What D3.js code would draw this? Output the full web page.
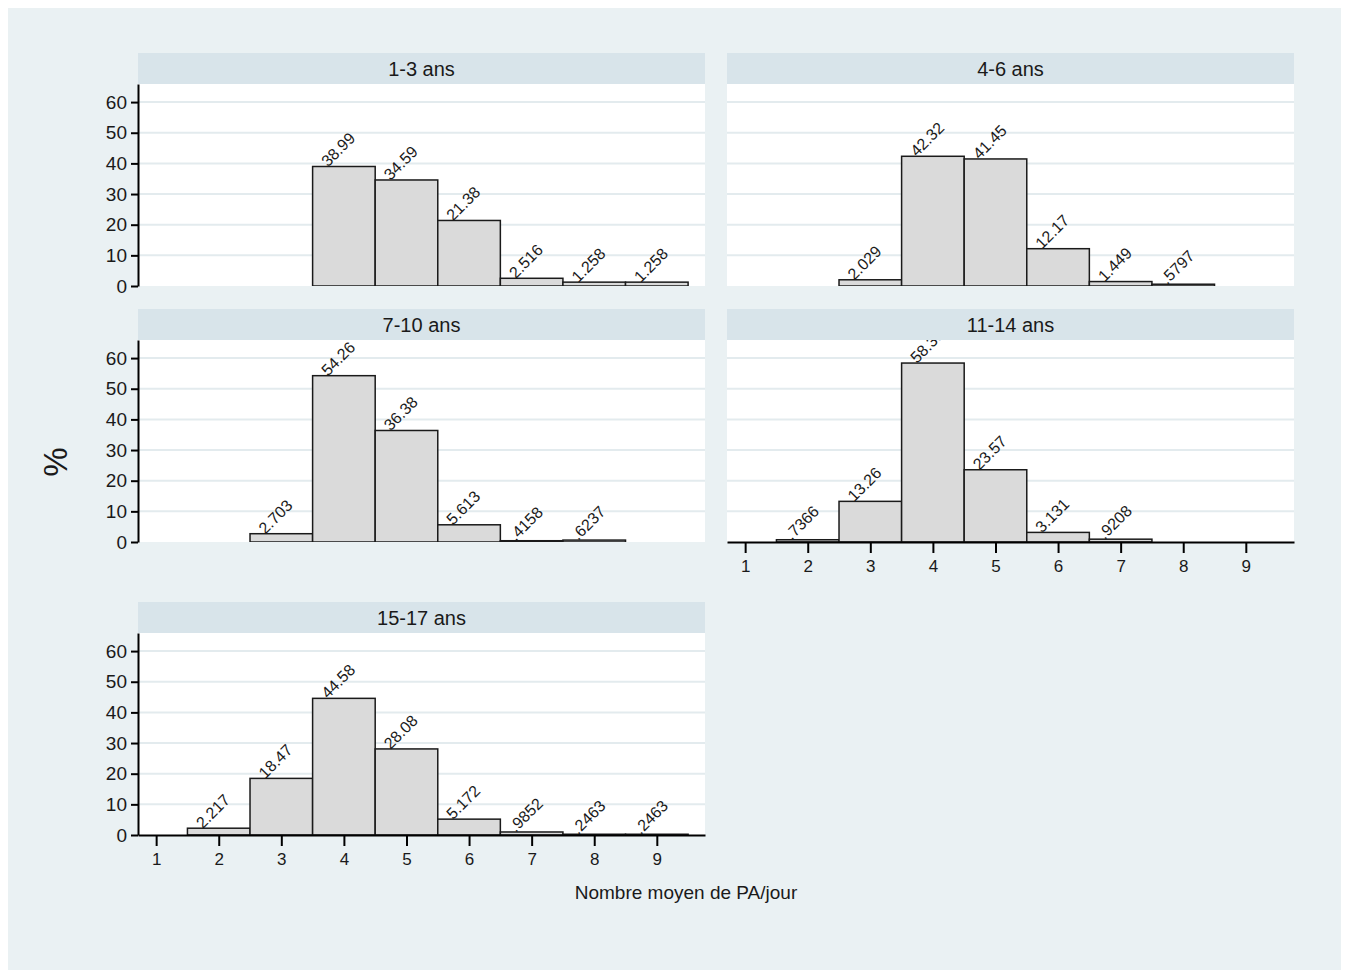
<!DOCTYPE html>
<html><head><meta charset="utf-8">
<script src="https://cdn.jsdelivr.net/npm/d3@7"></script>
<style>
html,body{margin:0;padding:0;background:#fff;}
svg{display:block;font-family:"Liberation Sans",Arial,sans-serif;}
</style></head>
<body>
<svg id="chart" width="1346" height="971"></svg>
<script>
// ---- data ----
const panelTitles = ["1-3 ans", "4-6 ans", "7-10 ans", "11-14 ans", "15-17 ans"];
const bins13 = [4, 5, 6, 7, 8, 9];
const vals13 = [38.99, 34.59, 21.38, 2.516, 1.258, 1.258];
const bins46 = [3, 4, 5, 6, 7, 8];
const vals46 = [2.029, 42.32, 41.45, 12.17, 1.449, 0.5797];
const bins710 = [3, 4, 5, 6, 7, 8];
const vals710 = [2.703, 54.26, 36.38, 5.613, 0.4158, 0.6237];
const bins1114 = [2, 3, 4, 5, 6, 7];
const vals1114 = [0.7366, 13.26, 58.38, 23.57, 3.131, 0.9208];
const bins1517 = [2, 3, 4, 5, 6, 7, 8, 9];
const vals1517 = [2.217, 18.47, 44.58, 28.08, 5.172, 0.9852, 0.2463, 0.2463];
const xTicks = [1, 2, 3, 4, 5, 6, 7, 8, 9];
const yTicks = [0, 10, 20, 30, 40, 50, 60];
const xTitle = "Nombre moyen de PA/jour";
const yTitle = "%";

const panelBins = [bins13, bins46, bins710, bins1114, bins1517];
const panelVals = [vals13, vals46, vals710, vals1114, vals1517];

// ---- layout ----
const svg = d3.select("#chart");
const font = '"Liberation Sans",Arial,sans-serif';
svg.append("rect").attr("x", 8).attr("y", 8).attr("width", 1333).attr("height", 962).attr("fill", "#eaf1f3");

const colX = [138, 727];
const rowY = [53, 309, 602];
const pw = 567, hh = 31, ph = 202;
const pos = [[0,0],[1,0],[0,1],[1,1],[0,2]];
const hasYAxis = [true, false, true, false, true];
const hasXAxis = [false, false, false, true, true];

const x = d3.scaleLinear().domain([0.71, 9.77]).range([0, pw]);
const y = d3.scaleLinear().domain([0, 65.9]).range([ph, 0]);

const fmt = v => String(v).replace(/^0\./, ".");

panelTitles.forEach((title, i) => {
  const [c, r] = pos[i];
  const gx = colX[c], gy = rowY[r];
  const g = svg.append("g").attr("transform", `translate(${gx},${gy})`);
  // header
  g.append("rect").attr("width", pw).attr("height", hh).attr("fill", "#d8e4ea");
  g.append("text").attr("x", pw / 2).attr("y", 23).attr("text-anchor", "middle")
    .attr("font-size", 20).attr("fill", "#1a1a1a").text(title);
  const p = g.append("g").attr("transform", `translate(0,${hh})`);
  const clipId = "clip" + i;
  p.append("clipPath").attr("id", clipId).append("rect").attr("width", pw).attr("height", ph);
  p.append("rect").attr("width", pw).attr("height", ph).attr("fill", "#ffffff");
  // gridlines
  p.selectAll("line.grid").data(yTicks.filter(t => t > 0)).enter().append("line")
    .attr("x1", 0).attr("x2", pw).attr("y1", d => y(d)).attr("y2", d => y(d))
    .attr("stroke", "#e3ebee").attr("stroke-width", 2);
  const data = panelBins[i].map((b, k) => ({ b, v: panelVals[i][k] }));
  const inner = p.append("g").attr("clip-path", `url(#${clipId})`);
  inner.selectAll("rect.bar").data(data).enter().append("rect")
    .attr("x", d => x(d.b - 0.5)).attr("width", d => x(d.b + 0.5) - x(d.b - 0.5))
    .attr("y", d => y(d.v)).attr("height", d => y(0) - y(d.v))
    .attr("fill", "#dadada").attr("stroke", "#1a1a1a").attr("stroke-width", 1.5);
  inner.selectAll("text.lab").data(data).enter().append("text")
    .attr("transform", d => `translate(${x(d.b) - 16},${y(d.v) + 1}) rotate(-45)`)
    .attr("font-size", 16).attr("fill", "#1a1a1a").text(d => fmt(d.v));
  if (hasYAxis[i]) {
    const ay = p.append("g").call(d3.axisLeft(y).tickValues(yTicks).tickSize(7).tickSizeOuter(0).tickPadding(4));
    ay.select(".domain").attr("stroke", "#000").attr("stroke-width", 2);
    ay.selectAll(".tick line").attr("stroke", "#000").attr("stroke-width", 2);
    ay.selectAll(".tick text").attr("font-size", 19).attr("font-family", font).attr("fill", "#1a1a1a");
  }
  if (hasXAxis[i]) {
    const ax = p.append("g").attr("transform", `translate(0,${ph})`)
      .call(d3.axisBottom(x).tickValues(xTicks).tickSize(11).tickSizeOuter(0).tickPadding(7));
    ax.select(".domain").attr("stroke", "#000").attr("stroke-width", 2);
    ax.selectAll(".tick line").attr("stroke", "#000").attr("stroke-width", 2);
    ax.selectAll(".tick text").attr("font-size", 17).attr("font-family", font).attr("fill", "#1a1a1a");
  }
});

svg.append("text").attr("x", 686).attr("y", 899).attr("text-anchor", "middle")
  .attr("font-size", 19).attr("fill", "#1a1a1a").text(xTitle);
svg.append("text").attr("transform", "translate(67,462) rotate(-90)").attr("text-anchor", "middle")
  .attr("font-size", 33).attr("fill", "#1a1a1a").text(yTitle);
</script>
</body></html>
